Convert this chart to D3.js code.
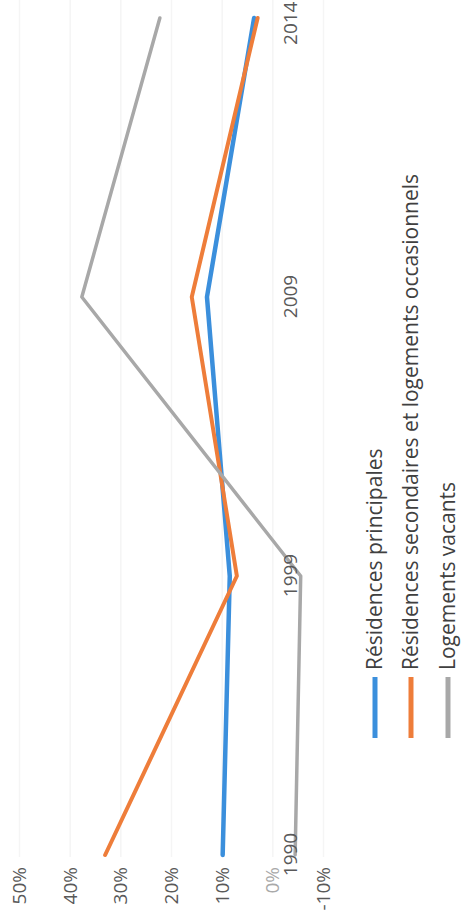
<!DOCTYPE html>
<html>
<head>
<meta charset="utf-8">
<script src="https://cdn.jsdelivr.net/npm/d3@7"></script>
<style>
  html, body { margin: 0; padding: 0; background: #fff; }
  svg { display: block; }
  text { font-family: "Open Sans", "Noto Sans", sans-serif; }
</style>
</head>
<body>
<svg id="chart" width="461" height="923"></svg>
<script>
// ---- Data ----
const categories = ["1990", "1999", "2009", "2014"];
const residencesPrincipales = [9.9, 8.5, 13.0, 3.7];
const residencesSecondaires = [33.1, 7.1, 16.0, 3.0];
const logementsVacants = [-4.4, -5.5, 37.7, 22.3];
const valueTicks = [50, 40, 30, 20, 10, 0, -10];
const seriesNames = [
  "Résidences principales",
  "Résidences secondaires et logements occasionnels",
  "Logements vacants"
];
const seriesColors = ["#3b8fdc", "#ee7d3a", "#a8a8a8"];

const series = [
  { name: seriesNames[0], values: residencesPrincipales, color: seriesColors[0], width: 4.5 },
  { name: seriesNames[1], values: residencesSecondaires, color: seriesColors[1], width: 4 },
  { name: seriesNames[2], values: logementsVacants, color: seriesColors[2], width: 3.5 }
];

// ---- Layout (chart drawn in its own frame, then rotated -90deg) ----
const W = 923, H = 461;
const svg = d3.select("#chart");
const g = svg.append("g").attr("transform", `translate(0,${W}) rotate(-90)`);

const x = d3.scalePoint().domain(categories).range([68, 905]);
const y = d3.scaleLinear().domain([-10, 50]).range([323.5, 19.5]);

// gridlines
g.append("g").selectAll("line").data(valueTicks).join("line")
  .attr("x1", 66).attr("x2", W)
  .attr("y1", d => y(d)).attr("y2", d => y(d))
  .attr("stroke", "#f5f5f5").attr("stroke-width", 1.5);

// value axis labels
const yAxis = d3.axisLeft(y).tickValues(valueTicks).tickSize(0).tickPadding(0)
  .tickFormat(d => d + "%");
const ya = g.append("g").attr("transform", "translate(56,0)").call(yAxis);
ya.select(".domain").remove();
ya.selectAll("text")
  .attr("font-size", 19)
  .attr("font-family", "'Open Sans', sans-serif")
  .attr("fill", d => d === 0 ? "#a9a9a9" : "#595959");

// lines
const line = d3.line().x((d, i) => x(categories[i])).y(d => y(d));
g.append("g").selectAll("path").data(series).join("path")
  .attr("d", d => line(d.values))
  .attr("fill", "none")
  .attr("stroke", d => d.color)
  .attr("stroke-width", d => d.width)
  .attr("stroke-linejoin", "round")
  .attr("stroke-linecap", "round");

// category axis labels (next to zero line)
const xAxis = d3.axisBottom(x).tickSize(0).tickPadding(0);
const xa = g.append("g").attr("transform", `translate(0,${y(0) + 11})`).call(xAxis);
xa.select(".domain").remove();
xa.selectAll("text")
  .attr("font-size", 19)
  .attr("font-family", "'Open Sans', sans-serif")
  .attr("fill", "#595959")
  .attr("dy", "0.71em")
  .attr("text-anchor", (d, i) => i === categories.length - 1 ? "end" : "middle")
  .attr("x", (d, i) => i === categories.length - 1 ? (W - 2 - x(d)) : 0);

// legend
const legend = g.append("g");
const rowsV = [375, 411, 448];
const items = legend.selectAll("g").data(series).join("g")
  .attr("transform", (d, i) => `translate(185,${rowsV[i]})`);
items.append("line")
  .attr("x1", 0).attr("x2", 61).attr("y1", 0).attr("y2", 0)
  .attr("stroke", d => d.color).attr("stroke-width", 5);
items.append("text")
  .attr("x", 68).attr("y", 0).attr("dy", "0.35em")
  .attr("font-size", 21)
  .attr("fill", "#404040")
  .text(d => d.name);
</script>
</body>
</html>
